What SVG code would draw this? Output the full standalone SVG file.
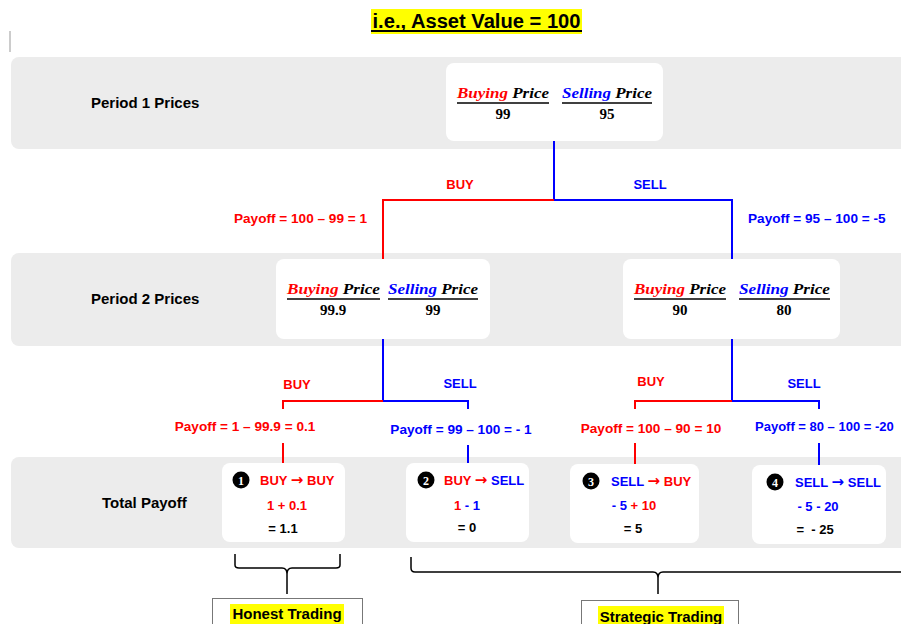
<svg xmlns="http://www.w3.org/2000/svg" width="901" height="624" viewBox="0 0 901 624">
<style>
text{font-family:"Liberation Sans",Arial,sans-serif;font-weight:bold;}
.band{fill:#ececec;}
.node{fill:#ffffff;}
.lbl{font-size:15px;fill:#000;}
.r{fill:#ff0000;}
.b{fill:#0000ff;}
.k{fill:#000;}
.s13{font-size:13px;}
.pay{font-size:13.6px;}
.arr{font-family:"DejaVu Sans",sans-serif;font-size:15px;}
.frac{font-family:"Liberation Serif","Times New Roman",serif;font-style:italic;font-size:15px;}
.num{font-family:"Liberation Serif","Times New Roman",serif;font-size:15px;fill:#000;text-anchor:middle;}
.mid{text-anchor:middle;}
.end{text-anchor:end;}
.rl{stroke:#ff0000;stroke-width:2;fill:none;}
.bl{stroke:#0000ff;stroke-width:2;fill:none;}
.fl{stroke:#000;stroke-width:1.5;}
.dot{fill:#000;}
.dn{font-family:"Liberation Serif",serif;font-size:12px;fill:#fff;text-anchor:middle;}
.br{stroke:#000;stroke-width:1.5;fill:none;}
.hl{fill:#ffff00;}
.tb{fill:#fff;stroke:#777;stroke-width:1;}
</style>

<g id="title">
<rect class="hl" x="371" y="9" width="211" height="25"/>
<text x="476.5" y="28" class="mid" font-size="20" textLength="208" lengthAdjust="spacingAndGlyphs">i.e., Asset Value = 100</text>
<line x1="371" y1="31" x2="582" y2="31" stroke="#000" stroke-width="2"/>
<line x1="10" y1="31" x2="10" y2="52" stroke="#999" stroke-width="1"/>
</g>

<g id="bands">
<rect class="band" x="11" y="57" width="900" height="92" rx="8"/>
<rect class="band" x="11" y="253" width="900" height="93" rx="8"/>
<rect class="band" x="11" y="457" width="900" height="91" rx="8"/>
<text class="lbl" x="91" y="108">Period 1 Prices</text>
<text class="lbl" x="91" y="304">Period 2 Prices</text>
<text class="lbl" x="102" y="508">Total Payoff</text>
</g>

<g id="connectors">
<line class="bl" x1="554" y1="141" x2="554" y2="200"/>
<line class="rl" x1="383" y1="200" x2="554" y2="200"/>
<line class="bl" x1="554" y1="200" x2="732" y2="200"/>
<line class="rl" x1="383" y1="199" x2="383" y2="259"/>
<line class="bl" x1="732" y1="199" x2="732" y2="259"/>
<text class="s13 r mid" x="460" y="189">BUY</text>
<text class="s13 b mid" x="650" y="189">SELL</text>
<text class="pay r end" x="367" y="223">Payoff = 100 – 99 = 1</text>
<text class="pay b" x="748" y="223">Payoff = 95 – 100 = -5</text>

<line class="bl" x1="383" y1="339" x2="383" y2="401"/>
<line class="rl" x1="283" y1="401" x2="383" y2="401"/>
<line class="bl" x1="383" y1="401" x2="468" y2="401"/>
<line class="rl" x1="283" y1="400" x2="283" y2="409"/>
<line class="rl" x1="283" y1="443" x2="283" y2="463"/>
<line class="bl" x1="468" y1="400" x2="468" y2="409"/>
<line class="bl" x1="468" y1="445" x2="468" y2="463"/>
<text class="s13 r mid" x="297" y="389">BUY</text>
<text class="s13 b mid" x="460" y="388">SELL</text>
<text class="pay r mid" x="245" y="431">Payoff = 1 – 99.9 = 0.1</text>
<text class="pay b mid" x="461" y="434">Payoff = 99 – 100 = - 1</text>

<line class="bl" x1="732" y1="339" x2="732" y2="401"/>
<line class="rl" x1="635" y1="401" x2="732" y2="401"/>
<line class="bl" x1="732" y1="401" x2="819" y2="401"/>
<line class="rl" x1="635" y1="400" x2="635" y2="409"/>
<line class="rl" x1="635" y1="443" x2="635" y2="464"/>
<line class="bl" x1="819" y1="400" x2="819" y2="409"/>
<line class="bl" x1="819" y1="443" x2="819" y2="465"/>
<text class="s13 r mid" x="651" y="386">BUY</text>
<text class="s13 b mid" x="804" y="388">SELL</text>
<text class="pay r mid" x="651" y="433">Payoff = 100 – 90 = 10</text>
<text class="s13 b" x="755" y="431">Payoff = 80 – 100 = -20</text>

<path class="br" d="M235,554 V565 Q235,568 239,568 H282 Q287,568 287,574 Q287,568 292,568 H336 Q340,568 340,565 V554 M287,574 V594"/>
<path class="br" d="M411,557 V568 Q411,572 415,572 H653 Q658,572 658,578 Q658,572 663,572 H905 M658,578 V594"/>
</g>

<g id="node-p1">
<rect class="node" x="446" y="63" width="217" height="78" rx="8"/>
<text class="frac" x="457" y="98" textLength="92" lengthAdjust="spacingAndGlyphs"><tspan class="r">Buying</tspan><tspan class="k"> Price</tspan></text>
<line class="fl" x1="457" y1="103" x2="549" y2="103"/>
<text class="num" x="503" y="119">99</text>
<text class="frac" x="562" y="98" textLength="90" lengthAdjust="spacingAndGlyphs"><tspan class="b">Selling</tspan><tspan class="k"> Price</tspan></text>
<line class="fl" x1="562" y1="103" x2="652" y2="103"/>
<text class="num" x="607" y="119">95</text>
</g>

<g id="node-p2-buy">
<rect class="node" x="276" y="259" width="214" height="80" rx="8"/>
<text class="frac" x="287" y="294" textLength="93" lengthAdjust="spacingAndGlyphs"><tspan class="r">Buying</tspan><tspan class="k"> Price</tspan></text>
<line class="fl" x1="287" y1="299" x2="380" y2="299"/>
<text class="num" x="333" y="315">99.9</text>
<text class="frac" x="388" y="294" textLength="90" lengthAdjust="spacingAndGlyphs"><tspan class="b">Selling</tspan><tspan class="k"> Price</tspan></text>
<line class="fl" x1="388" y1="299" x2="478" y2="299"/>
<text class="num" x="433" y="315">99</text>
</g>

<g id="node-p2-sell">
<rect class="node" x="623" y="259" width="217" height="80" rx="8"/>
<text class="frac" x="634" y="294" textLength="92" lengthAdjust="spacingAndGlyphs"><tspan class="r">Buying</tspan><tspan class="k"> Price</tspan></text>
<line class="fl" x1="634" y1="299" x2="726" y2="299"/>
<text class="num" x="680" y="315">90</text>
<text class="frac" x="739" y="294" textLength="91" lengthAdjust="spacingAndGlyphs"><tspan class="b">Selling</tspan><tspan class="k"> Price</tspan></text>
<line class="fl" x1="739" y1="299" x2="830" y2="299"/>
<text class="num" x="784" y="315">80</text>
</g>

<g id="outcome-1">
<rect class="node" x="222" y="463" width="123" height="79" rx="8"/>
<circle class="dot" cx="241" cy="480" r="8.5"/>
<text class="dn" x="241" y="484.5">1</text>
<text class="s13 r" x="260" y="485">BUY <tspan class="arr">→</tspan> BUY</text>
<text class="s13 r mid" x="287" y="510">1 + 0.1</text>
<text class="s13 k mid" x="283" y="533">= 1.1</text>
</g>

<g id="outcome-2">
<rect class="node" x="406" y="463" width="123" height="79" rx="8"/>
<circle class="dot" cx="426" cy="480" r="8.5"/>
<text class="dn" x="426" y="484.5">2</text>
<text class="s13" x="444" y="485"><tspan class="r">BUY </tspan><tspan class="r arr">→</tspan><tspan class="b"> SELL</tspan></text>
<text class="s13 mid" x="467" y="510"><tspan class="r">1 </tspan><tspan class="b">- 1</tspan></text>
<text class="s13 k mid" x="467" y="532">= 0</text>
</g>

<g id="outcome-3">
<rect class="node" x="570" y="464" width="129" height="79" rx="8"/>
<circle class="dot" cx="591" cy="481" r="8.5"/>
<text class="dn" x="591" y="485.5">3</text>
<text class="s13" x="611" y="486"><tspan class="b">SELL </tspan><tspan class="r arr">→</tspan><tspan class="r"> BUY</tspan></text>
<text class="s13 mid" x="634" y="510"><tspan class="b">- 5 </tspan><tspan class="r">+ 10</tspan></text>
<text class="s13 k mid" x="633" y="533">= 5</text>
</g>

<g id="outcome-4">
<rect class="node" x="752" y="465" width="134" height="79" rx="8"/>
<circle class="dot" cx="775" cy="482" r="8.5"/>
<text class="dn" x="775" y="486.5">4</text>
<text class="s13 b" x="795" y="487">SELL <tspan class="arr">→</tspan> SELL</text>
<text class="s13 b mid" x="818" y="511">- 5 - 20</text>
<text class="s13 k mid" x="815" y="534" xml:space="preserve">=  - 25</text>
</g>

<g id="honest">
<rect class="tb" x="212.5" y="598.5" width="150" height="30"/>
<rect class="hl" x="230" y="604" width="114" height="20"/>
<text class="lbl" x="287" y="619" text-anchor="middle" font-size="14">Honest Trading</text>
</g>

<g id="strategic">
<rect class="tb" x="581.5" y="600.5" width="157" height="30"/>
<rect class="hl" x="598" y="606" width="126" height="20"/>
<text class="lbl" x="661" y="622" text-anchor="middle" font-size="14">Strategic Trading</text>
</g>
</svg>
